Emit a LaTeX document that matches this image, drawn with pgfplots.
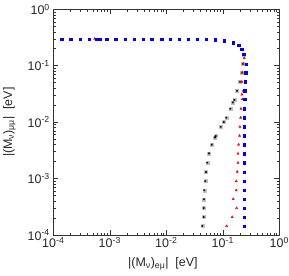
\documentclass[border=0pt]{standalone}
\usepackage{fontspec}
\setmainfont{Liberation Sans}
\usepackage{pgfplots}
\pgfplotsset{compat=1.18}
\begin{document}
\begin{tikzpicture}
\begin{axis}[
 name=ax,
 scale only axis, width=226bp, height=225.7bp,
 xmode=log, ymode=log, xmin=1e-4, xmax=1, ymin=1e-4, ymax=1,
 xtick={1e-4,1e-3,1e-2,1e-1,1},
 ytick={1e-4,1e-3,1e-2,1e-1,1},
 xticklabels={10\textsuperscript{-4},10\textsuperscript{-3},10\textsuperscript{-2},10\textsuperscript{-1},10\textsuperscript{0}},
 yticklabels={10\textsuperscript{-4},10\textsuperscript{-3},10\textsuperscript{-2},10\textsuperscript{-1},10\textsuperscript{0}},
 tick label style={font=\fontsize{12.5}{14}\selectfont, black!85},
 label style={font=\fontsize{12.5}{14}\selectfont, black!85},
 xticklabel style={yshift=1bp},
 xlabel={|(M\textsubscript{ν})\textsubscript{eμ}|\ \ [eV]},
 ylabel={|(M\textsubscript{ν})\textsubscript{μμ}|\ \ [eV]},
 xlabel style={at={(axis description cs:0.485,-0.128)}, anchor=center},
 ylabel style={at={(axis description cs:-0.195,0.5)}, anchor=center},
 major tick length=5bp, minor tick length=2.5bp,
 tick style={black!80, line width=0.5bp},
 axis line style={black!80, line width=0.8bp},
 clip=false,
]
% black crosses
\addplot[only marks, gray!50, mark=square*, mark size=1.5bp, mark options={draw=none}] coordinates {
(0.234,0.159) (0.225,0.108) (0.216,0.0754) (0.201,0.052) (0.178,0.036)
(0.16,0.0247) (0.15,0.0224) (0.136,0.0173) (0.115,0.012) (0.104,0.01)
(0.0918,0.00828) (0.0749,0.00567) (0.0728,0.00537) (0.0637,0.004) (0.057,0.0028)
(0.0532,0.00191) (0.0504,0.0013) (0.049,0.0009) (0.0471,0.00062) (0.0465,0.00043)
(0.0459,0.0003) (0.0459,0.000208) (0.0434,0.000144)
};
\addplot[only marks, black, mark=x, mark size=1.0bp, mark options={line width=0.6bp}] coordinates {
(0.234,0.159) (0.225,0.108) (0.216,0.0754) (0.201,0.052) (0.178,0.036)
(0.16,0.0247) (0.15,0.0224) (0.136,0.0173) (0.115,0.012) (0.104,0.01)
(0.0918,0.00828) (0.0749,0.00567) (0.0728,0.00537) (0.0637,0.004) (0.057,0.0028)
(0.0532,0.00191) (0.0504,0.0013) (0.049,0.0009) (0.0471,0.00062) (0.0465,0.00043)
(0.0459,0.0003) (0.0459,0.000208) (0.0434,0.000144)
};
% red triangles
\addplot[only marks, red, mark=triangle*, mark size=1.3bp, mark options={draw=none}] coordinates {
(0.00054,0.3)
(0.24,0.137) (0.231,0.108) (0.221,0.0757) (0.218,0.052) (0.231,0.036)
(0.218,0.031) (0.221,0.0254) (0.21,0.0173) (0.207,0.012) (0.201,0.00828)
(0.198,0.00574) (0.19,0.004) (0.186,0.00277) (0.186,0.00191) (0.18,0.00132)
(0.173,0.0009) (0.173,0.00062) (0.153,0.000433) (0.176,0.0003) (0.147,0.000208)
(0.117,0.000144)
};
% blue squares
\addplot[only marks, blue, mark=square*, mark size=1.25bp, mark options={draw=none}] coordinates {
(0.000141,0.298) (0.000203,0.298) (0.000297,0.298) (0.000433,0.298) (0.00058,0.298)
(0.00063,0.298) (0.00068,0.298) (0.00088,0.298) (0.00127,0.298) (0.00186,0.298)
(0.00269,0.298) (0.0039,0.298) (0.0055,0.298) (0.0083,0.298) (0.0118,0.298)
(0.017,0.298) (0.0245,0.298) (0.0349,0.298) (0.0504,0.297) (0.0736,0.29)
(0.105,0.277) (0.153,0.256) (0.191,0.23) (0.217,0.195) (0.232,0.159)
(0.26,0.107) (0.255,0.0757) (0.25,0.052) (0.245,0.036) (0.242,0.0254)
(0.24,0.0173) (0.24,0.012) (0.24,0.00828) (0.24,0.00574) (0.24,0.004)
(0.24,0.00277) (0.24,0.00191) (0.24,0.00129) (0.24,0.000895) (0.24,0.00062)
(0.24,0.000433) (0.24,0.0003) (0.24,0.000208) (0.24,0.000144)
};
\end{axis}
\pgfresetboundingbox
\path[use as bounding box] ([shift={(-53.3bp,-40bp)}]ax.south west) rectangle ([shift={(9.7bp,9.3bp)}]ax.north east);
\end{tikzpicture}
\end{document}
